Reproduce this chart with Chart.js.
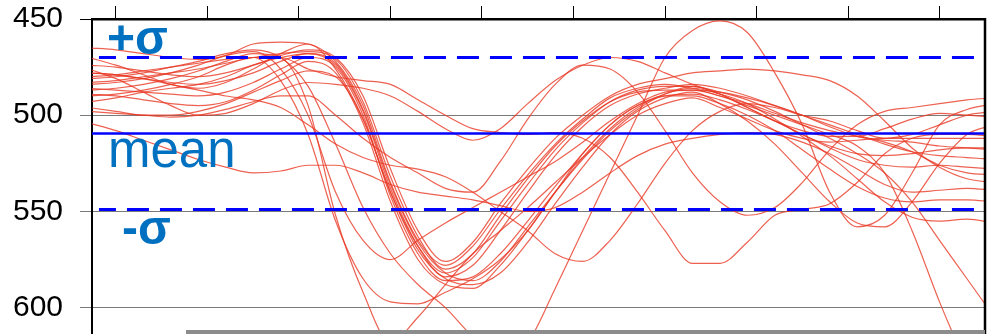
<!DOCTYPE html>
<html>
<head>
<meta charset="utf-8">
<script src="https://cdn.jsdelivr.net/npm/chart.js@4.4.1/dist/chart.umd.min.js"></script>
<style>
  html, body { margin: 0; padding: 0; background: #fff; }
  #wrap { width: 990px; height: 334px; position: relative; }
</style>
</head>
<body>
<div id="wrap"><canvas id="myChart"></canvas></div>
<script>
// sample positions along x (same for every trace)
const xs = [-30, 0, 30, 60, 90, 120, 150, 180, 210, 240, 270, 300, 330, 360, 390, 420, 450,
  480, 510, 540, 570, 600, 630, 660, 690, 720, 750, 780, 810, 840, 870, 900, 930, 960];

const trace1 = [465, 466, 468, 470, 471, 469, 463, 462, 463, 472, 495, 535, 565, 578, 568, 549, 531, 515, 502, 491, 486, 484, 486, 490, 495, 500, 505, 510, 516, 530, 560, 597, 630, 660];
const trace2 = [470, 474, 479, 484, 486, 483, 476, 468, 463, 476, 502, 540, 568, 582, 574, 555, 536, 518, 504, 493, 487, 485, 485, 488, 492, 498, 505, 512, 520, 530, 545, 565, 585, 605];
const trace3 = [474, 475, 477, 479, 480, 478, 474, 469, 466, 470, 490, 528, 560, 576, 566, 546, 528, 512, 500, 490, 484, 481, 478, 477, 476, 477, 479, 482, 490, 503, 517, 527, 533, 535];
const trace4 = [478, 479, 481, 483, 484, 482, 478, 472, 468, 474, 498, 538, 568, 584, 578, 560, 540, 521, 506, 495, 489, 486, 484, 486, 490, 495, 500, 505, 510, 515, 519, 521, 522, 523];
const trace5 = [483, 482, 480, 478, 476, 473, 470, 468, 467, 471, 493, 532, 563, 580, 572, 552, 533, 516, 503, 493, 488, 487, 487, 490, 494, 499, 504, 508, 511, 514, 519, 526, 530, 531];
const trace6 = [486, 487, 488, 489, 490, 488, 483, 476, 470, 475, 500, 542, 572, 586, 584, 572, 555, 537, 520, 505, 495, 490, 490, 494, 500, 508, 518, 528, 537, 543, 545, 544, 544, 545];
const trace7 = [489, 490, 492, 494, 495, 493, 487, 479, 472, 478, 504, 545, 575, 588, 590, 578, 560, 540, 522, 507, 496, 489, 486, 489, 494, 502, 511, 521, 533, 545, 553, 555, 554, 556];
const trace8 = [493, 491, 488, 486, 484, 480, 474, 470, 468, 473, 497, 536, 566, 582, 586, 576, 558, 540, 523, 508, 497, 489, 485, 489, 496, 503, 508, 511, 511, 507, 502, 499, 500, 501];
const trace9 = [496, 498, 500, 500, 498, 494, 488, 482, 477, 480, 502, 540, 570, 585, 588, 582, 566, 546, 527, 510, 498, 491, 488, 494, 503, 515, 530, 545, 556, 558, 545, 525, 510, 505];
const trace10 = [484, 483, 481, 478, 474, 469, 467, 476, 500, 540, 565, 575, 565, 556, 548, 540, 532, 524, 514, 503, 494, 488, 487, 488, 491, 495, 500, 506, 511, 513, 514, 516, 517, 518];
const trace11 = [490, 489, 487, 484, 480, 474, 470, 482, 510, 555, 585, 597, 598, 592, 585, 575, 560, 540, 520, 505, 495, 490, 489, 492, 497, 503, 510, 517, 523, 526, 527, 526, 527, 528];
const trace12 = [487, 486, 484, 481, 477, 472, 468, 470, 495, 552, 592, 618, 605, 588, 572, 560, 548, 535, 522, 510, 500, 494, 491, 496, 502, 508, 512, 514, 513, 512, 512, 512, 512, 512];
const trace13 = [481, 480, 478, 475, 472, 468, 466, 470, 485, 515, 548, 572, 588, 600, 615, 625, 618, 590, 560, 530, 500, 470, 456, 451, 457, 478, 505, 540, 558, 552, 530, 505, 497, 494];
const trace14 = [480, 479, 477, 475, 473, 471, 470, 470, 476, 480, 482, 484, 492, 500, 507, 509, 510, 509, 512, 522, 540, 560, 577, 577, 566, 552, 549, 546, 535, 520, 512, 510, 510, 511];
const trace15 = [476, 481, 488, 495, 500, 499, 494, 487, 483, 484, 486, 490, 498, 507, 513, 507, 494, 482, 474, 470, 472, 478, 484, 489, 496, 503, 510, 516, 520, 521, 520, 518, 517, 517];
const trace16 = [498, 499, 500, 501, 500, 497, 493, 490, 490, 500, 512, 522, 530, 538, 540, 524, 502, 484, 474, 476, 488, 508, 530, 545, 552, 548, 535, 518, 505, 498, 496, 494, 492, 491];
const trace17 = [504, 508, 513, 518, 523, 527, 530, 529, 526, 526, 530, 536, 540, 542, 544, 547, 550, 548, 540, 530, 521, 515, 512, 510, 509, 510, 514, 520, 528, 536, 540, 539, 538, 539];
const trace18 = [478, 479, 481, 484, 487, 490, 492, 496, 505, 515, 522, 526, 528, 532, 540, 550, 560, 572, 576, 565, 546, 525, 508, 498, 494, 496, 500, 503, 508, 512, 510, 505, 500, 498];

const traces = [trace1, trace2, trace3, trace4, trace5, trace6, trace7, trace8, trace9,
  trace10, trace11, trace12, trace13, trace14, trace15, trace16, trace17, trace18];

const yTicks = [450, 500, 550, 600];
const xTicks = [0, 100, 200, 300, 400, 500, 600, 700, 800, 900];

const sigmaPlus = 470;
const meanLevel = 509.5;
const sigmaMinus = 549;
const refFrom = -18.6;
const refTo = 960;

const blue = '#0000ff';
const labelBlue = '#0070c0';

function level(y, from) {
  return [{ x: from, y: y }, { x: refTo, y: y }];
}

const datasets = [
  { data: level(meanLevel, -30), borderColor: blue, borderWidth: 2.5 },
  { data: level(sigmaPlus, refFrom), borderColor: blue, borderWidth: 3, borderDash: [22, 11], borderDashOffset: 5 },
  { data: level(sigmaMinus, refFrom), borderColor: blue, borderWidth: 3, borderDash: [22, 11], borderDashOffset: 5 }
];
traces.forEach(t => {
  datasets.push({
    data: t.map((v, i) => ({ x: xs[i], y: v })),
    borderColor: 'rgba(232, 58, 38, 0.8)',
    borderWidth: 1.2,
    cubicInterpolationMode: 'monotone'
  });
});

const overlay = {
  id: 'overlay',
  afterDatasetsDraw(chart) {
    const ctx = chart.ctx;
    const area = chart.chartArea;
    const y = chart.scales.y;
    ctx.save();
    ctx.fillStyle = labelBlue;
    ctx.textBaseline = 'alphabetic';
    ctx.textAlign = 'left';
    ctx.font = 'bold 48px "Liberation Sans", Arial, sans-serif';
    ctx.fillText('+σ', area.left + 15, y.getPixelForValue(sigmaPlus) - 3);
    ctx.fillText('-σ', area.left + 30, y.getPixelForValue(sigmaMinus) + 34);
    ctx.font = '51px "Liberation Sans", Arial, sans-serif';
    ctx.fillText('mean', area.left + 16, y.getPixelForValue(meanLevel) + 34);

    // right frame
    ctx.strokeStyle = '#000';
    ctx.lineWidth = 2.5;
    ctx.beginPath();
    ctx.moveTo(area.right, area.top - 1);
    ctx.lineTo(area.right, area.bottom);
    ctx.stroke();

    // grey strip along the bottom
    ctx.fillStyle = '#8c8c8c';
    ctx.fillRect(186, chart.height - 4, area.right - 186, 4);
    ctx.restore();
  }
};

const ctx = document.getElementById('myChart');
new Chart(ctx, {
  type: 'line',
  data: { datasets: datasets },
  options: {
    responsive: true,
    maintainAspectRatio: false,
    animation: false,
    layout: { padding: { left: 0, right: 5, top: 0, bottom: 0 } },
    elements: { point: { radius: 0 }, line: { fill: false } },
    plugins: { legend: { display: false }, tooltip: { enabled: false } },
    scales: {
      x: {
        type: 'linear',
        position: 'top',
        min: -26.2,
        max: 949.7,
        afterBuildTicks: s => { s.ticks = xTicks.map(v => ({ value: v })); },
        afterFit: s => { s.height = 19; s.paddingLeft = 0; s.paddingRight = 0; },
        ticks: { display: false },
        grid: { drawOnChartArea: false, drawTicks: true, tickLength: 13, color: '#000', lineWidth: 1 },
        border: { display: true, color: '#000', width: 2.5 }
      },
      y: {
        reverse: true,
        min: 450,
        max: 613.7,
        afterBuildTicks: s => { s.ticks = yTicks.map(v => ({ value: v })); },
        afterFit: s => { s.width = 92; s.paddingTop = 0; s.paddingBottom = 0; },
        ticks: {
          padding: 17,
          color: '#000',
          font: { family: '"Liberation Sans", Arial, sans-serif', size: 30 }
        },
        grid: {
          tickLength: 12,
          lineWidth: 1,
          color: c => (c.tick && c.tick.value === 450 ? '#000' : '#7a7a7a')
        },
        border: { display: true, color: '#000', width: 2 }
      }
    }
  },
  plugins: [overlay]
});
</script>
</body>
</html>
